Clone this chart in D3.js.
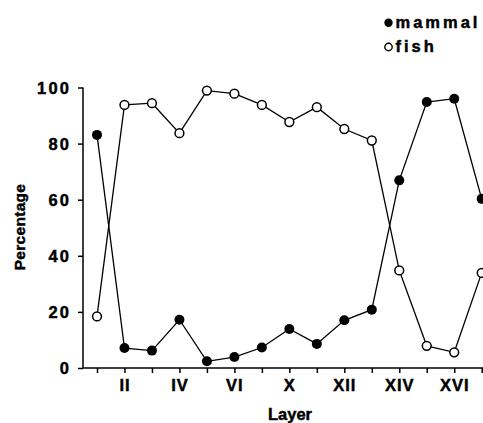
<!DOCTYPE html>
<html>
<head>
<meta charset="utf-8">
<script src="https://cdn.jsdelivr.net/npm/d3@7"></script>
<style>
  html, body { margin: 0; padding: 0; background: #fff; }
  svg { display: block; font-family: "Liberation Sans", Arial, Helvetica, sans-serif; font-weight: bold; }
  svg text { stroke: #000; stroke-width: 0.45px; }
</style>
</head>
<body>
<svg id="chart" width="483" height="423"></svg>
<script>
// ---- data ----
const layers = ["I","II","III","IV","V","VI","VIII","X","XI","XII","XIII","XIV","XV","XVI","XVII"];
const layerTickLabels = ["","II","","IV","","VI","","X","","XII","","XIV","","XVI",""];
const mammal = [83.1, 7.1, 6.2, 17.2, 2.4, 3.9, 7.3, 13.9, 8.6, 17.0, 20.8, 66.9, 94.8, 96.0, 60.3];
const fish   = [18.4, 93.8, 94.4, 83.7, 98.9, 97.8, 93.8, 87.7, 93.0, 85.2, 81.1, 34.8, 7.9, 5.6, 33.9];
const yTicks = [0, 20, 40, 60, 80, 100];
const seriesNames = ["mammal", "fish"];

// ---- layout ----
const svg = d3.select("#chart");
const axisLeftX = 83, axisBottomY = 368, axisRightX = 483;

const x = d3.scalePoint().domain(layers).range([97, 481.7]);
const y = d3.scaleLinear().domain([0, 100]).range([368, 87.5]);

// Y axis
const yAxis = svg.append("g").attr("transform", `translate(${axisLeftX},0)`)
  .call(d3.axisLeft(y).tickValues(yTicks).tickSize(5).tickPadding(9));
yAxis.select(".domain").attr("stroke-width", 1.5).attr("d", `M0,${y(100)}V${axisBottomY}`);
yAxis.selectAll(".tick line").attr("stroke-width", 1.5);
yAxis.selectAll(".tick text")
  .attr("font-size", 16.5).attr("font-weight", "bold").attr("fill", "#000")
  .attr("font-family", "Liberation Sans, Arial, sans-serif")
  .attr("letter-spacing", "2.2px").attr("dx", "2.2px").attr("dy", "0.36em");

// X axis
const xAxis = svg.append("g").attr("transform", `translate(0,${axisBottomY})`)
  .call(d3.axisBottom(x).tickFormat((d, i) => layerTickLabels[i]).tickSize(5).tickPadding(6));
xAxis.select(".domain").attr("stroke-width", 1.5).attr("d", `M${axisLeftX},0H${axisRightX}`);
xAxis.selectAll(".tick line").attr("stroke-width", 1.5);
xAxis.selectAll(".tick text")
  .attr("font-size", 16.5).attr("font-weight", "bold").attr("fill", "#000")
  .attr("font-family", "Liberation Sans, Arial, sans-serif")
  .attr("letter-spacing", "1px");

// Axis titles
svg.append("text").attr("x", 290).attr("y", 420).attr("text-anchor", "middle")
  .attr("font-size", 16.5).text("Layer");
svg.append("text").attr("transform", "translate(25,227) rotate(-90)")
  .attr("text-anchor", "middle").attr("font-size", 15.5).attr("letter-spacing", "0.3px")
  .text("Percentage");

// Lines
const line = d3.line().x((d, i) => x(layers[i])).y(d => y(d));
[mammal, fish].forEach(s => {
  svg.append("path").datum(s).attr("d", line)
    .attr("fill", "none").attr("stroke", "#000").attr("stroke-width", 1.3);
});

// Markers
svg.append("g").selectAll("circle").data(mammal).join("circle")
  .attr("cx", (d, i) => x(layers[i])).attr("cy", d => y(d)).attr("r", 5)
  .attr("fill", "#000");
svg.append("g").selectAll("circle").data(fish).join("circle")
  .attr("cx", (d, i) => x(layers[i])).attr("cy", d => y(d)).attr("r", 4.4)
  .attr("fill", "#fff").attr("stroke", "#000").attr("stroke-width", 1.5);

// Legend
const legend = svg.append("g");
seriesNames.forEach((name, i) => {
  const cy = 22.7 + i * 24.3;
  legend.append("circle").attr("cx", 388.5).attr("cy", cy).attr("r", i === 0 ? 4.2 : 3.7)
    .attr("fill", i === 0 ? "#000" : "#fff").attr("stroke", "#000").attr("stroke-width", i === 0 ? 0 : 1.4);
  legend.append("text").attr("x", 395.5).attr("y", cy + 5)
    .attr("font-size", 16.5).attr("letter-spacing", "3px").text(name);
});
</script>
</body>
</html>
